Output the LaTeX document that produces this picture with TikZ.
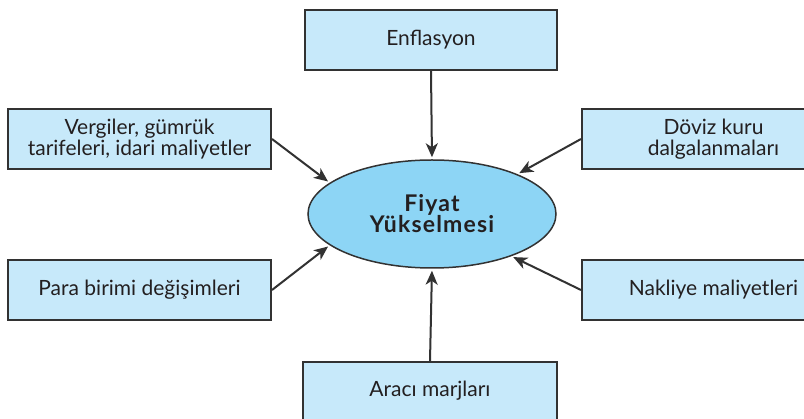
\documentclass[tikz,border=0pt]{standalone}
\usepackage{fontspec}
\setmainfont{Lato}
\newfontfamily\kalinyazi{Lato}[LetterSpace=5]
\usetikzlibrary{arrows.meta,shapes.geometric}
\definecolor{kutumavi}{RGB}{199,233,250}
\definecolor{elipsmavi}{RGB}{141,213,245}
\definecolor{kenar}{RGB}{50,50,50}
\definecolor{yazi}{RGB}{35,31,32}
\begin{document}
\begin{tikzpicture}[x=1pt,y=-1pt,
  kutu/.style={draw=kenar, line width=2pt, fill=kutumavi, minimum height=60pt, inner sep=0pt,
    align=center, text=yazi, font=\fontsize{21}{20.7}\selectfont},
  ok/.style={draw=kenar, line width=2pt, shorten >=2pt, -{Stealth[length=14pt,width=12pt,inset=4pt]}}]
\clip (0,0) rectangle (804,419);

\node[kutu, minimum width=252pt] (enf) at (431,40) {Enflasyon};
\node[kutu, minimum width=263pt] (vergi) at (139.5,139) {Vergiler, gümrük\\tarifeleri, idari maliyetler};
\node[kutu, minimum width=263pt] (doviz) at (713.5,139) {Döviz kuru\\dalgalanmaları};
\node[kutu, minimum width=263pt] (para) at (139.5,290) {Para birimi değişimleri};
\node[kutu, minimum width=263pt] (nakliye) at (713.5,290) {Nakliye maliyetleri};
\node[kutu, minimum width=254pt, minimum height=58pt] (araci) at (430,391) {Aracı marjları};

\node[ellipse, draw=kenar, line width=1.5pt, fill=elipsmavi, minimum width=248pt, minimum height=108pt,
  inner sep=0pt, align=center, text=yazi, font=\kalinyazi\bfseries\fontsize{23}{21}\selectfont] (fiyat) at (432,214) {Fiyat\\Yükselmesi};

\path[ok] (enf.south) -- (fiyat.north);
\path[ok] (araci.north) -- (fiyat.south);
\path[ok] (vergi.east) -- (fiyat.163);
\path[ok] (para.east) -- (fiyat.197);
\path[ok] (doviz.west) -- (fiyat.25);
\path[ok] (nakliye.west) -- (fiyat.-28);

\end{tikzpicture}
\end{document}
